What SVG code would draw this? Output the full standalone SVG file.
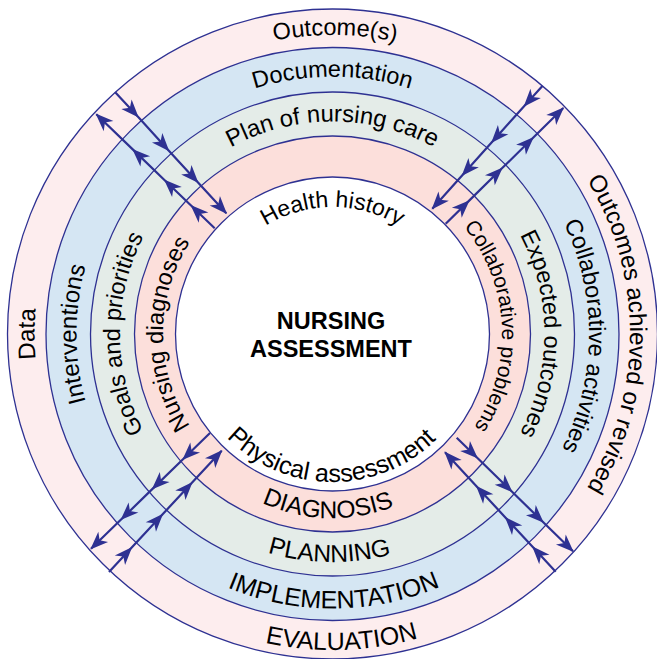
<svg xmlns="http://www.w3.org/2000/svg" width="657" height="659" viewBox="0 0 657 659">
<style>
.ring{stroke:#2E3192;stroke-width:1.3}
.lbl{font-family:"Liberation Sans",Arial,Helvetica,sans-serif;font-size:24px;fill:#000}
.title{font-family:"Liberation Sans",Arial,Helvetica,sans-serif;font-size:23.5px;font-weight:bold;fill:#000;text-anchor:middle}
.arr{fill:none;stroke:#2E3192;stroke-width:2.2;marker-mid:url(#ah);marker-end:url(#ah)}
</style>
<defs>
<marker id="ah" markerUnits="userSpaceOnUse" viewBox="-20 -9 22 18" markerWidth="22" markerHeight="18" refX="0" refY="0" orient="auto"><path d="M1,0 L-17,-7 L-12,0 L-17,7 Z" fill="#2E3192"/></marker>
<path id="tp-outcome" d="M329.9,633 A299,299 0 0 1 335.1,35 A299,299 0 0 1 329.9,633"/>
<path id="tp-doc" d="M332.5,591.3 A257.3,257.3 0 0 1 332.5,76.7 A257.3,257.3 0 0 1 332.5,591.3"/>
<path id="tp-plan" d="M332.5,546.5 A212.5,212.5 0 0 1 332.5,121.5 A212.5,212.5 0 0 1 332.5,546.5"/>
<path id="tp-health" d="M332.5,461 A127,127 0 0 1 332.5,207 A127,127 0 0 1 332.5,461"/>
<path id="tp-data" d="M630.5,334 A298,298 0 0 1 34.5,334 A298,298 0 0 1 630.5,334"/>
<path id="tp-interv" d="M588.5,334 A256,256 0 0 1 76.5,334 A256,256 0 0 1 588.5,334"/>
<path id="tp-goals" d="M545,334 A212.5,212.5 0 0 1 120,334 A212.5,212.5 0 0 1 545,334"/>
<path id="tp-nd" d="M502,334 A169.5,169.5 0 0 1 163,334 A169.5,169.5 0 0 1 502,334"/>
<path id="tp-oar" d="M35,334 A297.5,297.5 0 0 1 630,334 A297.5,297.5 0 0 1 35,334"/>
<path id="tp-ca" d="M76,331.8 A256.5,256.5 0 0 1 589,336.2 A256.5,256.5 0 0 1 76,331.8"/>
<path id="tp-eo" d="M120.5,334 A212,212 0 0 1 544.5,334 A212,212 0 0 1 120.5,334"/>
<path id="tp-cp" d="M163.2,342.9 A169.5,169.5 0 0 1 501.8,325.1 A169.5,169.5 0 0 1 163.2,342.9"/>
<path id="tp-eval" d="M323.1,18.1 A316,316 0 0 0 341.9,649.9 A316,316 0 0 0 323.1,18.1"/>
<path id="tp-impl" d="M331.1,59.5 A274.5,274.5 0 0 0 333.9,608.5 A274.5,274.5 0 0 0 331.1,59.5"/>
<path id="tp-planning" d="M335.7,106 A228,228 0 0 0 329.3,562 A228,228 0 0 0 335.7,106"/>
<path id="tp-diag" d="M337.3,149.6 A184.5,184.5 0 0 0 327.7,518.4 A184.5,184.5 0 0 0 337.3,149.6"/>
<path id="tp-phys" d="M333.8,186 A148,148 0 0 0 331.2,482 A148,148 0 0 0 333.8,186"/>
</defs>

<g id="evaluation">
<circle class="ring" cx="332.5" cy="334" r="325" fill="#FDEDEE"/>
<text class="lbl" style="font-size:23.5px"><textPath href="#tp-outcome" startOffset="50%" text-anchor="middle">Outcome(s)</textPath></text>
<text class="lbl"><textPath href="#tp-data" startOffset="50%" text-anchor="middle">Data</textPath></text>
<text class="lbl"><textPath href="#tp-oar" startOffset="50%" text-anchor="middle">Outcomes achieved or revised</textPath></text>
<text class="lbl" style="font-size:25px"><textPath href="#tp-eval" startOffset="50%" text-anchor="middle">EVALUATION</textPath></text>
</g>

<g id="implementation">
<circle class="ring" cx="332.5" cy="334" r="286.5" fill="#D5E6F3"/>
<text class="lbl" style="font-size:23.5px"><textPath href="#tp-doc" startOffset="50%" text-anchor="middle">Documentation</textPath></text>
<text class="lbl"><textPath href="#tp-interv" startOffset="50%" text-anchor="middle">Interventions</textPath></text>
<text class="lbl" style="font-size:23.5px"><textPath href="#tp-ca" startOffset="50%" text-anchor="middle">Collaborative activities</textPath></text>
<text class="lbl" style="font-size:25px"><textPath href="#tp-impl" startOffset="50%" text-anchor="middle">IMPLEMENTATION</textPath></text>
</g>

<g id="planning">
<circle class="ring" cx="332.5" cy="334" r="242" fill="#E4ECE8"/>
<text class="lbl" style="font-size:23.8px"><textPath href="#tp-plan" startOffset="50%" text-anchor="middle">Plan of nursing care</textPath></text>
<text class="lbl" style="font-size:23.5px"><textPath href="#tp-goals" startOffset="50%" text-anchor="middle">Goals and priorities</textPath></text>
<text class="lbl" style="font-size:23.5px"><textPath href="#tp-eo" startOffset="50%" text-anchor="middle">Expected outcomes</textPath></text>
<text class="lbl" style="font-size:24.5px"><textPath href="#tp-planning" startOffset="50%" text-anchor="middle">PLANNING</textPath></text>
</g>

<g id="diagnosis">
<circle class="ring" cx="332.5" cy="334" r="198" fill="#FCDFDB"/>
<text class="lbl" style="font-size:23.5px"><textPath href="#tp-nd" startOffset="50%" text-anchor="middle">Nursing diagnoses</textPath></text>
<text class="lbl" style="font-size:21px"><textPath href="#tp-cp" startOffset="50%" text-anchor="middle">Collaborative problems</textPath></text>
<text class="lbl" style="font-size:24.5px"><textPath href="#tp-diag" startOffset="50%" text-anchor="middle">DIAGNOSIS</textPath></text>
</g>

<g id="assessment">
<circle class="ring" cx="332.5" cy="334" r="157" fill="#FFFFFF"/>
<text class="lbl" style="font-size:23px"><textPath href="#tp-health" startOffset="50%" text-anchor="middle">Health history</textPath></text>
<text class="lbl" style="font-size:25px"><textPath href="#tp-phys" startOffset="50%" text-anchor="middle">Physical assessment</textPath></text>
<text class="title" x="331" y="329">NURSING</text>
<text class="title" x="331" y="357">ASSESSMENT</text>
</g>

<g id="connectors">
<path class="arr" d="M115.2,92.3 L138,116.7 L168.6,150.4 L197.8,182.3 L226.3,213.3"/>
<path class="arr" d="M214.7,228.3 L191.3,205.8 L164.7,180.2 L133,149.6 L96.3,114.3"/>
<path class="arr" d="M542.4,85.9 L524.3,106 L491.8,142.3 L462.3,175.3 L432.3,208.7"/>
<path class="arr" d="M445.7,223.7 L468.9,200.9 L502,168.3 L533.1,137.8 L563.3,108"/>
<path class="arr" d="M210,433 L183,459.3 L152.5,488.9 L121.3,519.3 L91,548.7"/>
<path class="arr" d="M109,572 L131.5,547.8 L162.4,514.5 L191.9,482.7 L221.7,450.7"/>
<path class="arr" d="M456.7,437.7 L477.2,457.8 L511.8,491.5 L543,522 L573,551.3"/>
<path class="arr" d="M555.7,571.7 L532.8,547 L505.6,517.7 L476.7,486.5 L445,452.3"/>
</g>
</svg>
